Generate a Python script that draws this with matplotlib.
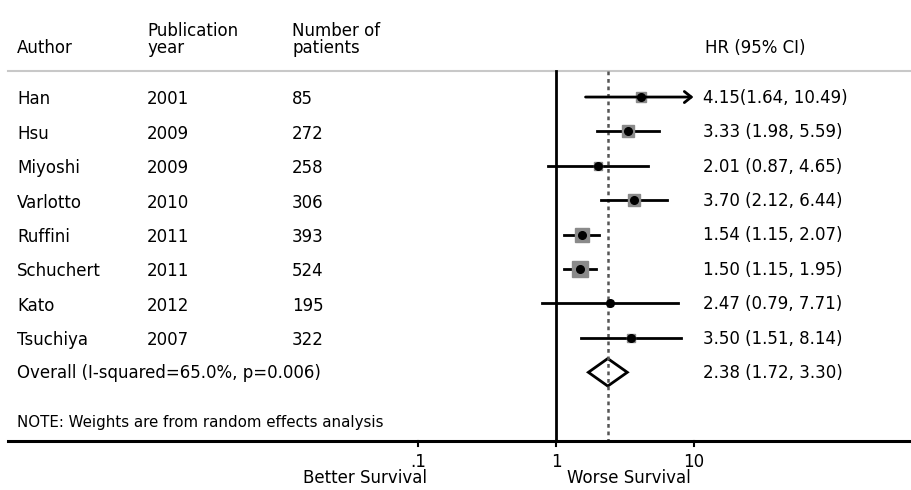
import numpy as np
import matplotlib.pyplot as plt

plt.rcParams['font.family'] = ['DejaVu Sans']

authors = ["Han", "Hsu", "Miyoshi", "Varlotto", "Ruffini", "Schuchert", "Kato", "Tsuchiya"]
years = ["2001", "2009", "2009", "2010", "2011", "2011", "2012", "2007"]
patients = ["85", "272", "258", "306", "393", "524", "195", "322"]
hr = [4.15, 3.33, 2.01, 3.70, 1.54, 1.50, 2.47, 3.50]
lo = [1.64, 1.98, 0.87, 2.12, 1.15, 1.15, 0.79, 1.51]
hi = [10.49, 5.59, 4.65, 6.44, 2.07, 1.95, 7.71, 8.14]
weights = [8.0, 14.5, 5.0, 14.0, 19.0, 19.5, 3.0, 6.5]  # approx. box weights (%)
hr_labels = ["4.15(1.64, 10.49)", "3.33 (1.98, 5.59)", "2.01 (0.87, 4.65)",
             "3.70 (2.12, 6.44)", "1.54 (1.15, 2.07)", "1.50 (1.15, 1.95)",
             "2.47 (0.79, 7.71)", "3.50 (1.51, 8.14)"]
overall = [2.38, 1.72, 3.30]
overall_label = "2.38 (1.72, 3.30)"
overall_text = "Overall (I-squared=65.0%, p=0.006)"
xticks = [0.1, 1, 10]
xticklabels = [".1", "1", "10"]
xmax_plot = 10  # CIs beyond this get an arrow

fig = plt.figure(figsize=(9.11, 4.90), dpi=100)
ax = fig.add_axes([0, 0, 1, 1])
ax.set_xscale("log")
ax.set_xlim(10 ** -4.0436, 10 ** 2.5818)
ax.set_ylim(11.42, -2.82)
ax.axis("off")

tr = ax.get_yaxis_transform()  # x in axes fraction, y in data
fs = 12
n = len(authors)
rows = np.arange(n)

# header
ax.text(17 / 911, -1.42, "Author", transform=tr, fontsize=fs, va="center")
ax.text(147 / 911, -1.93, "Publication", transform=tr, fontsize=fs, va="center")
ax.text(147 / 911, -1.42, "year", transform=tr, fontsize=fs, va="center")
ax.text(292 / 911, -1.93, "Number of", transform=tr, fontsize=fs, va="center")
ax.text(292 / 911, -1.42, "patients", transform=tr, fontsize=fs, va="center")
ax.text(705 / 911, -1.42, "HR (95% CI)", transform=tr, fontsize=fs, va="center")
ax.plot([8 / 911, 1], [-0.756, -0.756], transform=tr, color="#c8c8c8", lw=1.5)

# reference lines
ax.plot([1, 1], [-0.756, 10], color="black", lw=2)
ax.plot([overall[0], overall[0]], [-0.756, 10], color="#555555", lw=1.8,
        linestyle=(0, (1.5, 1.5)))

# studies
for i in rows:
    ax.text(17 / 911, i + 0.07, authors[i], transform=tr, fontsize=fs, va="center")
    ax.text(147 / 911, i + 0.07, years[i], transform=tr, fontsize=fs, va="center")
    ax.text(292 / 911, i + 0.07, patients[i], transform=tr, fontsize=fs, va="center")
    ax.text(703 / 911, i + 0.02, hr_labels[i], transform=tr, fontsize=fs, va="center")
    if hi[i] > xmax_plot:
        ax.annotate("", xy=(xmax_plot, i), xytext=(lo[i], i),
                    arrowprops=dict(arrowstyle="->,head_length=0.5,head_width=0.4",
                                    lw=2, color="black", shrinkA=0, shrinkB=0))
    else:
        ax.plot([lo[i], hi[i]], [i, i], color="black", lw=2)
    side = 3.4 * np.sqrt(weights[i]) / 1.389
    ax.plot(hr[i], i, marker="s", markersize=side, color="#8a8a8a", mec="#8a8a8a")
    ax.plot(hr[i], i, marker="o", markersize=5.5, color="black")

# overall diamond
oy = n
ax.fill([overall[1], overall[0], overall[2], overall[0]],
        [oy, oy - 0.4, oy, oy + 0.4], facecolor="white", edgecolor="black", lw=2)
ax.text(17 / 911, oy + 0.02, overall_text, transform=tr, fontsize=fs, va="center")
ax.text(703 / 911, oy + 0.02, overall_label, transform=tr, fontsize=fs, va="center")
ax.text(17 / 911, 9.45, "NOTE: Weights are from random effects analysis",
        transform=tr, fontsize=10.8, va="center")

# x axis
ax.plot([8 / 911, 1], [10, 10], transform=tr, color="black", lw=2.2)
for t, lab in zip(xticks, xticklabels):
    ax.plot([t, t], [10, 10.15], color="black", lw=1.5)
    ax.text(t, 10.6, lab, ha="center", va="center", fontsize=fs)
ax.text(0.041, 11.08, "Better Survival", ha="center", va="center", fontsize=fs)
ax.text(3.4, 11.08, "Worse Survival", ha="center", va="center", fontsize=fs)

fig.savefig("out.png", dpi=100)
